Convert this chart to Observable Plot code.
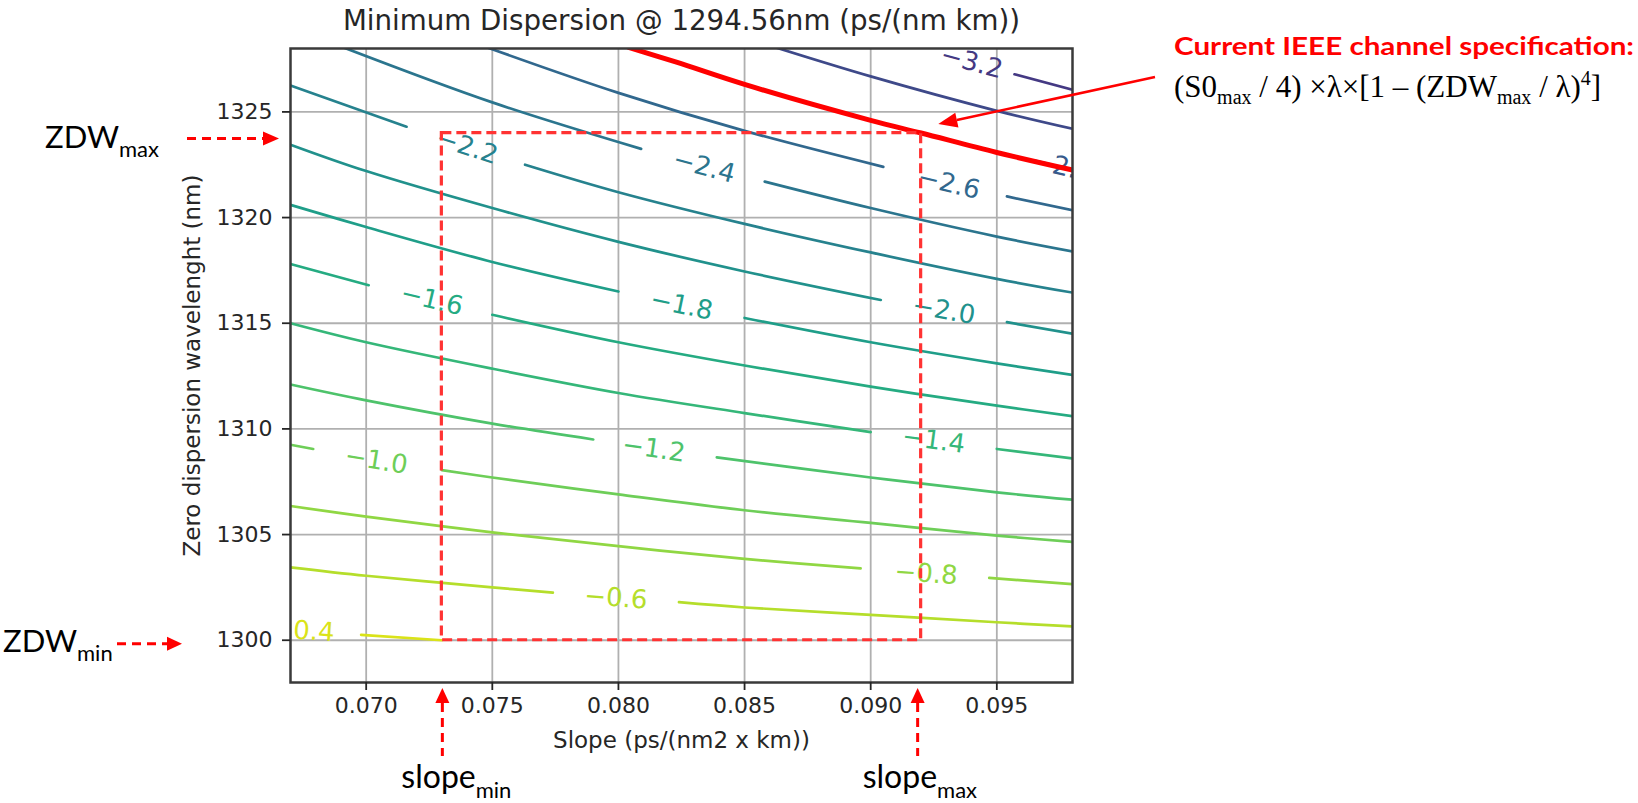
<!DOCTYPE html>
<html><head><meta charset="utf-8">
<script src="https://cdn.jsdelivr.net/npm/d3@7"></script>
<script src="https://cdn.jsdelivr.net/npm/@observablehq/plot@0.6"></script>
<style>html,body{margin:0;padding:0;background:#fff;overflow:hidden}svg{display:block}</style>
</head><body><div id="chart"></div>
<script>
// ---------- data ----------
const xTicks = [0.070, 0.075, 0.080, 0.085, 0.090, 0.095];
const yTicks = [1300, 1305, 1310, 1315, 1320, 1325];
const xDomain = [0.067, 0.098];
const yDomain = [1298, 1328];
const colorDomain = [-3.8, -0.2];

// contour segments per level: [slope, zero-dispersion wavelength]; gaps = inline labels
const c_32 = [[[0.0957, 1326.78], [0.098, 1326.05]]];
const c_30 = [[[0.0861, 1328.1], [0.090, 1326.68], [0.095, 1325.05], [0.098, 1324.2]]];
const c_26 = [[[0.0748, 1328.05], [0.080, 1325.9], [0.085, 1324.1], [0.0905, 1322.4]],
              [[0.0954, 1321.0], [0.098, 1320.35]]];
const c_24 = [[[0.0691, 1328.05], [0.075, 1325.45], [0.0809, 1323.25]],
              [[0.0858, 1321.7], [0.090, 1320.45], [0.095, 1319.1], [0.098, 1318.4]]];
const c_22 = [[[0.067, 1326.25], [0.0716, 1324.3]],
              [[0.0763, 1322.5], [0.080, 1321.2], [0.085, 1319.7], [0.090, 1318.35], [0.095, 1317.1], [0.098, 1316.45]]];
const c_20 = [[[0.067, 1323.45], [0.070, 1322.2], [0.075, 1320.45], [0.080, 1318.85], [0.085, 1317.45], [0.0904, 1316.1]],
              [[0.0954, 1315.05], [0.098, 1314.5]]];
const c_18 = [[[0.067, 1320.6], [0.070, 1319.55], [0.075, 1317.9], [0.080, 1316.5]],
              [[0.085, 1315.25], [0.090, 1314.1], [0.095, 1313.1], [0.098, 1312.55]]];
const c_16 = [[[0.067, 1317.8], [0.0701, 1316.8]],
              [[0.075, 1315.4], [0.080, 1314.1], [0.085, 1313.0], [0.090, 1312.0], [0.095, 1311.1], [0.098, 1310.6]]];
const c_14 = [[[0.067, 1315.0], [0.070, 1314.1], [0.075, 1312.85], [0.080, 1311.7], [0.085, 1310.75], [0.0900, 1309.85]],
              [[0.0950, 1309.05], [0.098, 1308.6]]];
const c_12 = [[[0.067, 1312.1], [0.070, 1311.35], [0.075, 1310.25], [0.0790, 1309.5]],
              [[0.0839, 1308.65], [0.090, 1307.7], [0.095, 1307.0], [0.098, 1306.65]]];
const c_10 = [[[0.067, 1309.25], [0.0679, 1309.05]],
              [[0.0730, 1308.05], [0.075, 1307.7], [0.080, 1306.9], [0.085, 1306.15], [0.090, 1305.55], [0.095, 1304.95], [0.098, 1304.65]]];
const c_08 = [[[0.067, 1306.35], [0.070, 1305.85], [0.075, 1305.1], [0.080, 1304.45], [0.085, 1303.85], [0.0896, 1303.4]],
              [[0.0947, 1302.95], [0.098, 1302.65]]];
const c_06 = [[[0.067, 1303.45], [0.070, 1303.05], [0.075, 1302.5], [0.0774, 1302.25]],
              [[0.0824, 1301.8], [0.085, 1301.55], [0.090, 1301.2], [0.095, 1300.85], [0.098, 1300.65]]];
const c_04 = [[[0.0698, 1300.25], [0.073, 1300.0]]];

// IEEE specification curve (red), the -2.8 ps/(nm km) line
const ieee = [[0.0804, 1328.05], [0.0823, 1327.35], [0.085, 1326.3], [0.090, 1324.6], [0.092, 1324.0], [0.095, 1323.08], [0.098, 1322.25]];

// inline contour labels
const labelLevel = [-3.2, -2.8, -2.6, -2.4, -2.2, -2.0, -1.8, -1.6, -1.4, -1.2, -1.0, -0.8, -0.6, -0.4];
const labelSlope = [0.0940, 0.0976, 0.0931, 0.0834, 0.0740, 0.0929, 0.0825, 0.0726, 0.0925, 0.0814, 0.0704, 0.0922, 0.0799, 0.0675];
const labelZdw   = [1327.35, 1322.4, 1321.6, 1322.4, 1323.35, 1315.6, 1315.85, 1316.1, 1309.45, 1309.05, 1308.5, 1303.15, 1302.0, 1300.45];

// spec window
const slopeMin = 0.073, slopeMax = 0.092;
const zdwMin = 1300, zdwMax = 1324;

const titleText = "Minimum Dispersion @ 1294.56nm (ps/(nm km))";
const xLabel = "Slope (ps/(nm2 x km))";
const yLabel = "Zero dispersion wavelenght (nm)";

// ---------- build ----------
const W = 1638, H = 803, mL = 290, mR = 566, mT = 48, mB = 121;
const xs = d3.scaleLinear(xDomain, [mL, W - mR]);
const ys = d3.scaleLinear(yDomain, [H - mB, mT]);

const contourSets = [[-3.2, c_32], [-3.0, c_30], [-2.6, c_26], [-2.4, c_24], [-2.2, c_22], [-2.0, c_20],
  [-1.8, c_18], [-1.6, c_16], [-1.4, c_14], [-1.2, c_12], [-1.0, c_10], [-0.8, c_08], [-0.6, c_06], [-0.4, c_04]];
const rows = [];
contourSets.forEach(([lv, segs]) => segs.forEach((seg, i) => seg.forEach(([s, z]) =>
  rows.push({level: lv, seg: lv + "_" + i, slope: s, zdw: z}))));
const ieeeRows = ieee.map(([s, z]) => ({slope: s, zdw: z}));

function angleFor(level, s) {
  let pts = rows.filter(r => r.level === level).map(r => [r.slope, r.zdw]);
  if (!pts.length) pts = ieee.slice();
  pts.sort((a, b) => a[0] - b[0]);
  let i = d3.bisector(d => d[0]).left(pts, s);
  i = Math.max(1, Math.min(pts.length - 1, i));
  const p1 = pts[i - 1], p2 = pts[i];
  return Math.atan2(ys(p2[1]) - ys(p1[1]), xs(p2[0]) - xs(p1[0])) * 180 / Math.PI;
}
const labelRows = labelLevel.map((lv, i) => ({
  level: lv,
  text: "\u2212" + Math.abs(lv).toFixed(1),
  slope: labelSlope[i], zdw: labelZdw[i],
  angle: angleFor(lv, labelSlope[i])
}));
const box = [{s1: slopeMin, s2: slopeMax, z1: zdwMin, z2: zdwMax}];

const font = "DejaVu Sans";
const plot = Plot.plot({
  width: W, height: H,
  marginLeft: mL, marginRight: mR, marginTop: mT, marginBottom: mB,
  style: {fontFamily: font, background: "#fff", color: "#262626", overflow: "visible"},
  x: {domain: xDomain},
  y: {domain: yDomain},
  color: {type: "linear", scheme: "viridis", domain: colorDomain},
  marks: [
    Plot.gridX(xTicks, {stroke: "#b0b0b0", strokeOpacity: 1, strokeWidth: 1.8}),
    Plot.gridY(yTicks, {stroke: "#b0b0b0", strokeOpacity: 1, strokeWidth: 1.8}),
    Plot.line(rows, {x: "slope", y: "zdw", z: "seg", stroke: "level", strokeWidth: 2.7, curve: "catmull-rom", clip: true}),
    Plot.text(labelRows, {x: "slope", y: "zdw", text: "text", fill: "level", rotate: "angle", fontSize: 26, fontFamily: font, clip: true}),
    Plot.line(ieeeRows, {x: "slope", y: "zdw", stroke: "#ff0000", strokeWidth: 5, curve: "catmull-rom", clip: true}),
    Plot.rect(box, {x1: "s1", x2: "s2", y1: "z1", y2: "z2", fill: "none", stroke: "#ff3333", strokeWidth: 3.2, strokeDasharray: "10 5"}),
    Plot.frame({stroke: "#3a3a3a", strokeWidth: 2.5}),
    Plot.axisX(xTicks, {tickFormat: d => d.toFixed(3), tickSize: 8, tickPadding: 7, fontSize: 22, label: null, strokeWidth: 1.8}),
    Plot.axisY(yTicks, {tickFormat: d => String(d), tickSize: 8, tickPadding: 10, fontSize: 22, label: null, strokeWidth: 1.8}),
    Plot.text([titleText], {frameAnchor: "top", lineAnchor: "middle", dy: -27, text: d => d, fontSize: 27.7, fill: "#262626"}),
    Plot.text([xLabel], {frameAnchor: "bottom", lineAnchor: "middle", dy: 58, text: d => d, fontSize: 23, fill: "#262626"}),
    Plot.text([yLabel], {frameAnchor: "left", textAnchor: "middle", lineAnchor: "middle", dx: -98, rotate: -90, text: d => d, fontSize: 23, fill: "#262626"})
  ]
});
document.getElementById("chart").appendChild(plot);

// ---------- annotations ----------
const X = plot.scale("x").apply, Y = plot.scale("y").apply;
const svg = d3.select(plot);
const g = svg.append("g").attr("class", "annotations").attr("text-anchor", "start");
const red = "#ff0000";
const ann = "Lato, 'Open Sans', sans-serif";

function hArrow(y, x0, xBase, xTip) {
  g.append("line").attr("x1", x0).attr("x2", xBase).attr("y1", y).attr("y2", y)
    .attr("stroke", red).attr("stroke-width", 3).attr("stroke-dasharray", "9 6");
  g.append("path").attr("d", `M${xBase},${y - 7}L${xTip},${y}L${xBase},${y + 7}Z`).attr("fill", red);
}
function vArrow(x, yTip, yBase, y1) {
  g.append("line").attr("x1", x).attr("x2", x).attr("y1", yBase).attr("y2", y1)
    .attr("stroke", red).attr("stroke-width", 3).attr("stroke-dasharray", "9 6");
  g.append("path").attr("d", `M${x - 7},${yBase}L${x},${yTip}L${x + 7},${yBase}Z`).attr("fill", red);
}
function subText(x, y, main, sub, size, subSize) {
  const t = g.append("text").attr("x", x).attr("y", y).attr("text-anchor", "start")
    .attr("font-family", ann).attr("font-size", size).attr("fill", "#000");
  t.append("tspan").text(main);
  t.append("tspan").attr("font-size", subSize).attr("dy", size * 0.3).text(sub);
}

// ZDW max / min
const yMaxA = Y(zdwMax) + 6;
hArrow(yMaxA, mL - 103, mL - 27, mL - 11);
subText(45, yMaxA + 9, "ZDW", "max", 31, 22);
const yMinA = Y(zdwMin) + 4;
hArrow(yMinA, mL - 173, mL - 123, mL - 108);
subText(3, yMinA + 8, "ZDW", "min", 31, 22);

// slope min / max
const fb = H - mB;
const xMinA = X(slopeMin) + 1, xMaxA = X(slopeMax) - 3;
vArrow(xMinA, fb + 6, fb + 21, fb + 74);
vArrow(xMaxA, fb + 6, fb + 21, fb + 74);
subText(xMinA - 41, fb + 106, "slope", "min", 32, 22);
subText(xMaxA - 55, fb + 106, "slope", "max", 32, 22);

// IEEE annotation
g.append("text").attr("x", 1174).attr("y", 55).attr("text-anchor", "start").attr("font-family", ann).attr("font-weight", 700)
  .attr("font-size", 25).attr("fill", red).attr("textLength", 460).attr("lengthAdjust", "spacingAndGlyphs")
  .text("Current IEEE channel specification:");
const f = g.append("text").attr("x", 1174).attr("y", 97).attr("text-anchor", "start").attr("font-family", "'Liberation Serif', serif")
  .attr("font-size", 31).attr("fill", "#000");
f.append("tspan").text("(S0");
f.append("tspan").attr("font-size", 20).attr("dy", 7).text("max");
f.append("tspan").attr("dy", -7).text(" / 4) \u00d7\u03bb\u00d7[1 \u2013 (ZDW");
f.append("tspan").attr("font-size", 20).attr("dy", 7).text("max");
f.append("tspan").attr("dy", -7).text(" / \u03bb)");
f.append("tspan").attr("font-size", 20).attr("dy", -12).text("4");
f.append("tspan").attr("dy", 12).text("]");

// arrow from the annotation to the red curve
const tip = [X(0.0927), Y(1324.4)];
const start = [1155, 77];
const ang = Math.atan2(tip[1] - start[1], tip[0] - start[0]);
const hl = 19, hw = 7.5;
const bx = tip[0] - hl * Math.cos(ang), by = tip[1] - hl * Math.sin(ang);
g.append("line").attr("x1", start[0]).attr("y1", start[1]).attr("x2", bx).attr("y2", by)
  .attr("stroke", red).attr("stroke-width", 2.6);
g.append("path").attr("d",
  `M${tip[0]},${tip[1]}L${bx + hw * Math.sin(ang)},${by - hw * Math.cos(ang)}L${bx - hw * Math.sin(ang)},${by + hw * Math.cos(ang)}Z`)
  .attr("fill", red);
</script>
</body></html>
